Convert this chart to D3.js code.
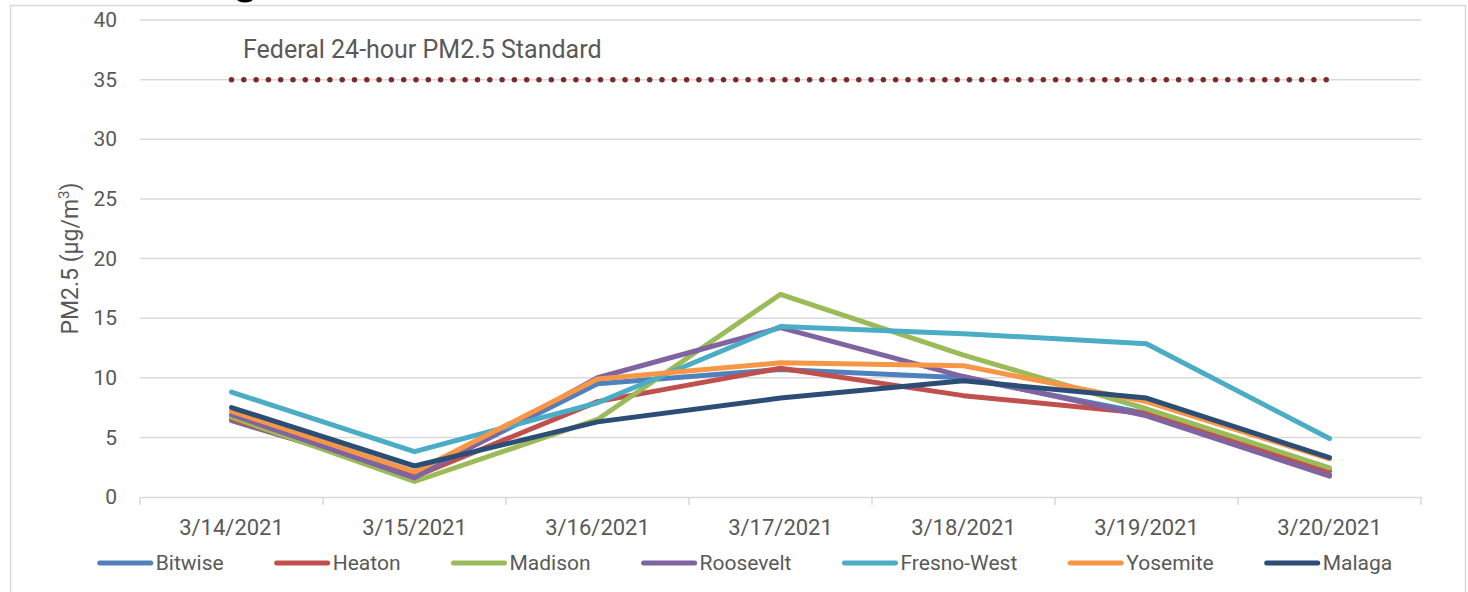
<!DOCTYPE html>
<html>
<head>
<meta charset="utf-8">
<script src="https://cdn.jsdelivr.net/npm/d3@7"></script>
<style>
  html, body { margin: 0; padding: 0; background: #fff; }
  svg { display: block; font-family: Roboto, "Noto Sans", sans-serif; }
</style>
</head>
<body>
<svg id="chart" width="1468" height="592"></svg>
<script>
// ---- data ----
const dates = ["3/14/2021", "3/15/2021", "3/16/2021", "3/17/2021", "3/18/2021", "3/19/2021", "3/20/2021"];
const yTicks = [0, 5, 10, 15, 20, 25, 30, 35, 40];
const seriesNames = ["Bitwise", "Heaton", "Madison", "Roosevelt", "Fresno-West", "Yosemite", "Malaga"];
const bitwise    = [6.4, 1.8, 9.5, 10.7, 10.0, 7.0, 1.9];
const heaton     = [6.5, 1.7, 8.0, 10.8, 8.5, 7.0, 2.2];
const madison    = [6.7, 1.3, 6.5, 17.0, 11.9, 7.4, 2.45];
const roosevelt  = [6.9, 1.6, 10.0, 14.2, 10.1, 6.8, 1.75];
const fresnoWest = [8.8, 3.8, 7.9, 14.3, 13.7, 12.85, 4.9];
const yosemite   = [7.2, 2.1, 9.9, 11.25, 11.0, 8.0, 3.2];
const malaga     = [7.5, 2.6, 6.3, 8.3, 9.75, 8.3, 3.3];
const standard   = [35, 35, 35, 35, 35, 35, 35];
const standardLabel = "Federal 24-hour PM2.5 Standard";

const seriesValues = [bitwise, heaton, madison, roosevelt, fresnoWest, yosemite, malaga];
const colors = ["#4F81BD", "#C0504D", "#9BBB59", "#8064A2", "#4BACC6", "#F79646", "#2C4D75"];

(function () {
// ---- layout ----
const svg = d3.select("#chart");
const pLeft = 140, pRight = 1421, pTop = 20, pBottom = 497;
const textColor = "#595959", gridColor = "#D9D9D9";
const fs = 21;

// outer frame
svg.append("rect").attr("x", 10.5).attr("y", 5.5).attr("width", 1455).attr("height", 600)
  .attr("fill", "none").attr("stroke", gridColor).attr("stroke-width", 1.5);

// cut-off title fragment (descender of a glyph above the frame)
svg.append("ellipse").attr("cx", 245).attr("cy", -1).attr("rx", 8).attr("ry", 3.5).attr("fill", "#000");

const x = d3.scaleBand().domain(dates).range([pLeft, pRight]);
const y = d3.scaleLinear().domain([0, 40]).range([pBottom, pTop]);
const cx = d => x(d) + x.bandwidth() / 2;

// gridlines
svg.append("g").selectAll("line").data(yTicks.filter(t => t > 0)).join("line")
  .attr("x1", pLeft).attr("x2", pRight).attr("y1", d => y(d)).attr("y2", d => y(d))
  .attr("stroke", gridColor).attr("stroke-width", 1.5);

// y axis labels
const yAxis = svg.append("g").attr("transform", `translate(${pLeft},0)`)
  .call(d3.axisLeft(y).tickValues(yTicks).tickSize(0).tickPadding(23));
yAxis.select(".domain").remove();
yAxis.selectAll("text").attr("font-size", fs).attr("fill", textColor).attr("font-family", "Roboto, sans-serif");

// x axis
const xAxis = svg.append("g").attr("transform", `translate(0,${pBottom})`)
  .call(d3.axisBottom(x).tickSize(0).tickPadding(22));
xAxis.select(".domain").attr("stroke", gridColor).attr("stroke-width", 1.5);
xAxis.selectAll("text").attr("font-size", 22).attr("fill", textColor).attr("font-family", "Roboto, sans-serif");
// category boundary ticks
const bounds = dates.map(d => x(d)).concat([pRight]);
svg.append("g").selectAll("line").data(bounds).join("line")
  .attr("x1", d => d).attr("x2", d => d).attr("y1", pBottom).attr("y2", pBottom + 8)
  .attr("stroke", gridColor).attr("stroke-width", 1.5);

// y axis title
svg.append("text")
  .attr("transform", `translate(78,${(pTop + pBottom) / 2}) rotate(-90)`)
  .attr("text-anchor", "middle").attr("font-size", 23).attr("fill", textColor)
  .call(t => {
    t.append("tspan").text("PM2.5 (µg/m");
    t.append("tspan").attr("font-size", 15).attr("dy", -9).text("3");
    t.append("tspan").attr("dy", 9).text(")");
  });

// standard line (dotted)
const line = d3.line().x((d, i) => cx(dates[i])).y(d => y(d));
svg.append("path").datum(standard).attr("d", line)
  .attr("fill", "none").attr("stroke", "#7F2A2A").attr("stroke-width", 5.5)
  .attr("stroke-linecap", "round").attr("stroke-dasharray", "0,12.3");
svg.append("text").attr("x", 243).attr("y", 58).attr("font-size", 25).attr("fill", textColor)
  .text(standardLabel);

// series lines
seriesValues.forEach((vals, i) => {
  svg.append("path").datum(vals).attr("d", line)
    .attr("fill", "none").attr("stroke", colors[i]).attr("stroke-width", 5)
    .attr("stroke-linejoin", "round").attr("stroke-linecap", "round");
});

// legend
const legend = svg.append("g");
const swatch = 55, gapText = 3, gapItem = 51, legY = 563;
let pos = 0;
seriesNames.forEach((name, i) => {
  const g = legend.append("g");
  g.append("line").attr("x1", pos + 2).attr("x2", pos + swatch - 2).attr("y1", legY).attr("y2", legY)
    .attr("stroke", colors[i]).attr("stroke-width", 5).attr("stroke-linecap", "round");
  const t = g.append("text").attr("x", pos + swatch + gapText).attr("y", legY).attr("dy", "0.35em")
    .attr("font-size", fs).attr("fill", textColor).text(name);
  pos += swatch + gapText + t.node().getComputedTextLength() + gapItem;
});
const total = pos - gapItem;
legend.attr("transform", `translate(${745 - total / 2},0)`);
})();
</script>
</body>
</html>
